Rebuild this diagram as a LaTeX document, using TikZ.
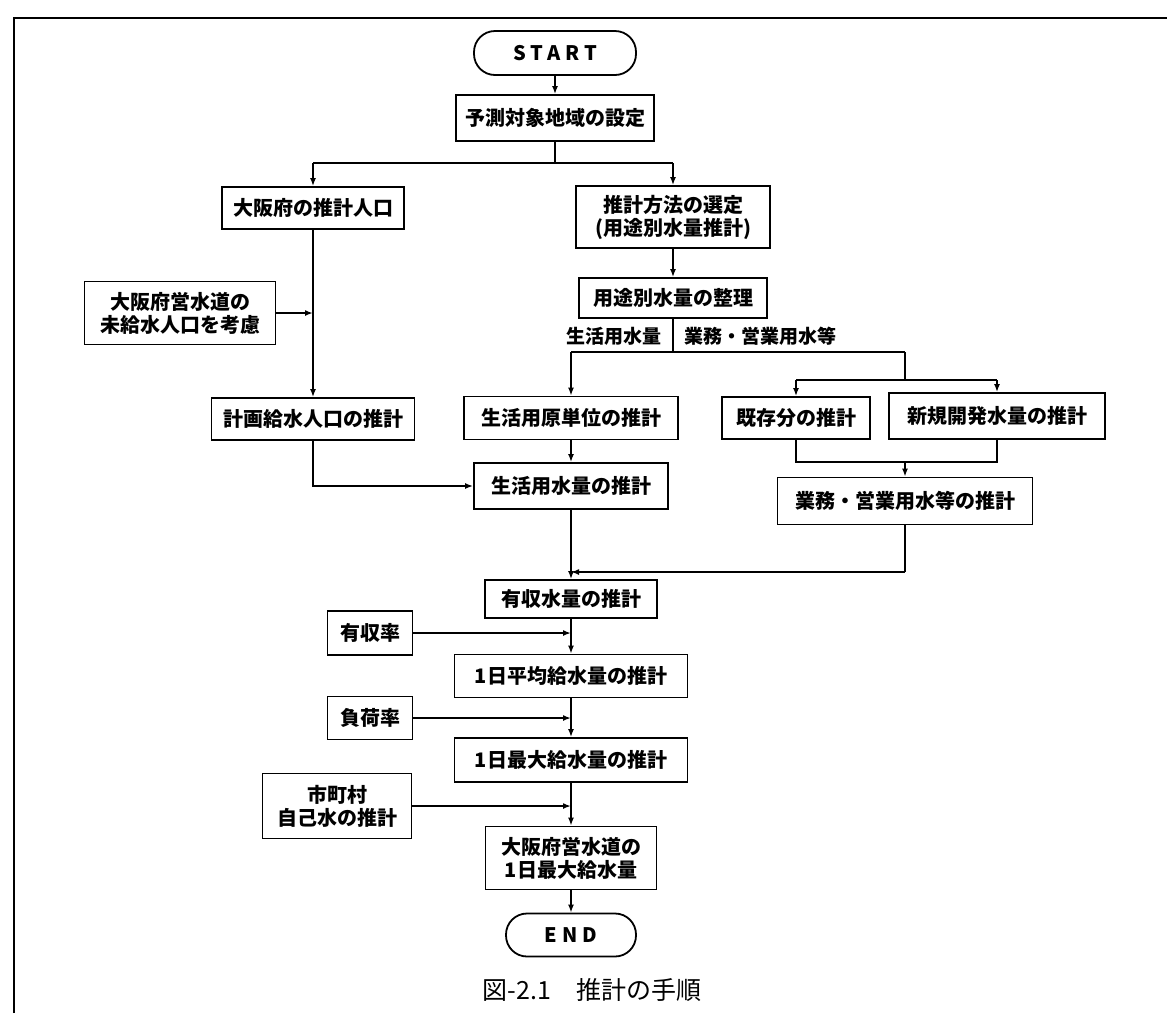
\documentclass[tikz,border=0pt]{standalone}
\usepackage{fontspec}
\setmainfont{Noto Sans CJK JP}
\usetikzlibrary{arrows.meta}
\tikzset{
  stepbox/.style={draw, line width=1.8pt, inner sep=0pt, align=center,
    font=\bfseries\fontsize{20}{23}\selectfont},
  termbox/.style={stepbox, rounded corners=21pt},
  lbl/.style={inner sep=0pt, font=\bfseries\fontsize{19}{23}\selectfont},
  ln/.style={line width=1.6pt},
  arr/.style={ln, -{Latex[length=8pt,width=6pt]}},
}
\begin{document}
\begin{tikzpicture}[x=1pt,y=-1pt]
\useasboundingbox (0,0) rectangle (1167,1013);
% frame
\draw[line width=2.8pt] (14,1013) -- (14,18) -- (1167,18);
% nodes
\node[termbox, minimum width=162pt, minimum height=44pt] (start) at (555,53) {\addfontfeatures{LetterSpace=25}START};
\node[stepbox, minimum width=198pt, minimum height=46pt] (yosoku) at (555,118) {予測対象地域の設定};
\node[stepbox, minimum width=182pt, minimum height=42pt] (osaka) at (313,208) {大阪府の推計人口};
\node[stepbox, minimum width=194pt, minimum height=62pt] (hoho) at (673,217) {推計方法の選定\\(用途別水量推計)};
\node[stepbox, minimum width=188pt, minimum height=40pt] (yoto) at (673,298) {用途別水量の整理};
\node[lbl, anchor=east] (lseikatsu) at (662,336) {生活用水量};
\node[lbl, anchor=west] (lgyomu) at (684,336) {業務・営業用水等};
\node[stepbox, minimum width=191pt, minimum height=63pt] (mikyu) at (180,313) {大阪府営水道の\\未給水人口を考慮};
\node[stepbox, minimum width=203pt, minimum height=42pt] (keikaku) at (313,419) {計画給水人口の推計};
\node[stepbox, minimum width=214pt, minimum height=43pt] (genta) at (571,418) {生活用原単位の推計};
\node[stepbox, minimum width=148pt, minimum height=42pt] (kizon) at (796,418) {既存分の推計};
\node[stepbox, minimum width=216pt, minimum height=46pt] (shinki) at (997,416) {新規開発水量の推計};
\node[stepbox, minimum width=194pt, minimum height=46pt] (seikatsu) at (571,486) {生活用水量の推計};
\node[stepbox, minimum width=255pt, minimum height=47pt] (gyomu) at (905,501) {業務・営業用水等の推計};
\node[stepbox, minimum width=172pt, minimum height=38pt] (yushu) at (571,599) {有収水量の推計};
\node[stepbox, minimum width=85pt, minimum height=44pt] (ritsu) at (370,633) {有収率};
\node[stepbox, minimum width=233pt, minimum height=43pt] (heikin) at (571,676) {1日平均給水量の推計};
\node[stepbox, minimum width=85pt, minimum height=43pt] (fuka) at (370,718) {負荷率};
\node[stepbox, minimum width=233pt, minimum height=44pt] (saidai) at (571,760) {1日最大給水量の推計};
\node[stepbox, minimum width=149pt, minimum height=65pt] (jiko) at (337,806) {市町村\\自己水の推計};
\node[stepbox, minimum width=171pt, minimum height=63pt] (fusaidai) at (571,858) {大阪府営水道の\\1日最大給水量};
\node[termbox, minimum width=130pt, minimum height=43pt] (end) at (571,935) {\addfontfeatures{LetterSpace=25}END};
\node[inner sep=0pt, font=\fontsize{25}{28}\selectfont] (cap) at (592,990) {図-2.1　推計の手順};
% coordinates
\coordinate (b0) at (555,163);
\coordinate (bL) at (313,163);
\coordinate (bR) at (673,163);
\coordinate (s0) at (673,352);
\coordinate (sL) at (571,352);
\coordinate (sR) at (905,352);
\coordinate (t0) at (905,380);
\coordinate (tL) at (796,380);
\coordinate (tR) at (997,380);
\coordinate (m0) at (905,462);
\coordinate (mL) at (796,462);
\coordinate (mR) at (997,462);
\coordinate (r1) at (905,572);
\coordinate (r2) at (571,572);
\coordinate (j1) at (313,313);
\coordinate (j2) at (571,633);
\coordinate (j3) at (571,718);
\coordinate (j4) at (571,806);
% connectors
\draw[arr] (start) -- (yosoku);
\draw[ln] (yosoku) -- (b0);
\draw[ln] (bL) -- (bR);
\draw[arr] (bL) -- (osaka);
\draw[arr] (bR) -- (hoho);
\draw[arr] (hoho) -- (yoto);
\draw[ln] (yoto) -- (s0);
\draw[ln] (sL) -- (sR);
\draw[arr] (sL) -- (genta);
\draw[ln] (sR) -- (t0);
\draw[ln] (tL) -- (tR);
\draw[arr] (tL) -- (kizon);
\draw[arr] (tR) -- (shinki);
\draw[ln] (kizon) -- (mL) -- (mR) -- (shinki);
\draw[arr] (m0) -- (gyomu);
\draw[arr] (osaka) -- (keikaku);
\draw[arr] (mikyu) -- (j1);
\draw[arr] (keikaku) |- (seikatsu);
\draw[arr] (genta) -- (seikatsu);
\draw[arr] (seikatsu) -- (yushu);
\draw[ln] (gyomu) -- (r1);
\draw[arr] (r1) -- (r2);
\draw[arr] (yushu) -- (heikin);
\draw[arr] (ritsu) -- (j2);
\draw[arr] (heikin) -- (saidai);
\draw[arr] (fuka) -- (j3);
\draw[arr] (saidai) -- (fusaidai);
\draw[arr] (jiko) -- (j4);
\draw[arr] (fusaidai) -- (end);
\end{tikzpicture}
\end{document}
